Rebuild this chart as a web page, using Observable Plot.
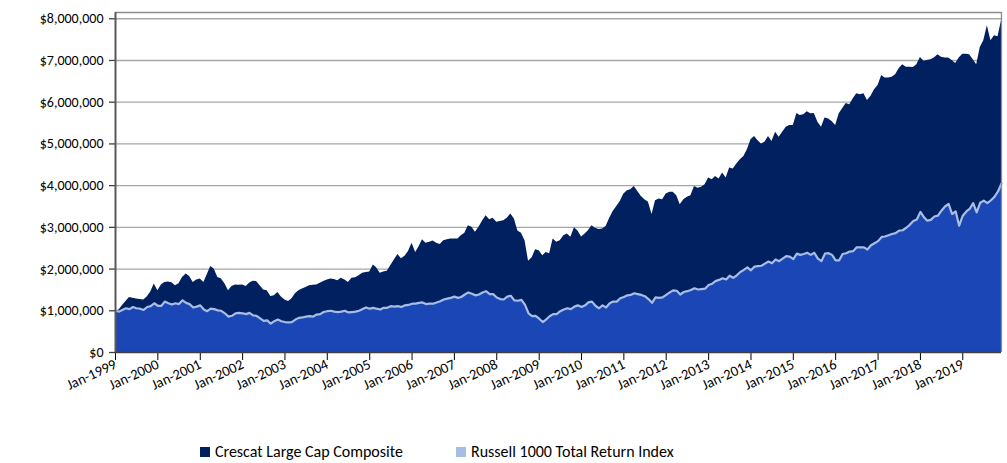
<!DOCTYPE html>
<html>
<head>
<meta charset="utf-8">
<script src="https://cdn.jsdelivr.net/npm/d3@7"></script>
<script src="https://cdn.jsdelivr.net/npm/@observablehq/plot@0.6"></script>
<style>
  body { margin: 0; background: #fff; font-family: Carlito, Lato, "Open Sans", sans-serif; }
  #wrap { position: relative; width: 1007px; height: 463px; }
  #legend { position: absolute; left: 0; top: 439px; width: 1007px; height: 25px; font-size: 16px; color: #000; }
  .item { position: absolute; top: 0; display: flex; align-items: center; height: 25px; }
  .sw { width: 10px; height: 10px; margin-right: 5px; }
</style>
</head>
<body>
<div id="wrap">
  <div id="chart"></div>
  <div id="legend"></div>
</div>
<script>
// Series names
const seriesNames = ["Crescat Large Cap Composite", "Russell 1000 Total Return Index"];
const seriesColors = ["#002060", "#a7bde4"];
const russellFill = "#1a47b5";

// Monthly values, Jan-1999 .. Dec-2019, in millions of dollars (growth of $1,000,000)
const crescat = [
  1.00, 1.02, 1.12, 1.22, 1.32, 1.30, 1.28, 1.27, 1.26, 1.33, 1.45, 1.64,
  1.48, 1.62, 1.68, 1.69, 1.67, 1.60, 1.65, 1.80, 1.88, 1.82, 1.68, 1.74,
  1.76, 1.68, 1.86, 2.06, 2.00, 1.80, 1.77, 1.65, 1.48, 1.58, 1.62, 1.61,
  1.62, 1.58, 1.66, 1.71, 1.70, 1.60, 1.50, 1.48, 1.34, 1.36, 1.44, 1.33,
  1.26, 1.22, 1.28, 1.41, 1.48, 1.52, 1.56, 1.60, 1.61, 1.62, 1.66, 1.70,
  1.74, 1.76, 1.75, 1.72, 1.78, 1.74, 1.68, 1.78, 1.79, 1.84, 1.90, 1.92,
  1.93, 2.10, 2.03, 1.90, 1.93, 1.95, 2.08, 2.22, 2.35, 2.25, 2.31, 2.42,
  2.62, 2.40, 2.53, 2.70, 2.62, 2.64, 2.67, 2.62, 2.59, 2.68, 2.70, 2.72,
  2.72, 2.72, 2.80, 2.86, 3.04, 3.00, 2.88, 3.00, 3.15, 3.28, 3.18, 3.22,
  3.12, 3.14, 3.16, 3.22, 3.32, 3.20, 2.91, 2.86, 2.68, 2.19, 2.27, 2.46,
  2.44, 2.32, 2.40, 2.37, 2.72, 2.64, 2.68, 2.80, 2.84, 2.76, 2.99, 2.91,
  2.77, 2.84, 2.92, 3.04, 2.98, 2.95, 2.96, 3.02, 3.22, 3.38, 3.50, 3.62,
  3.80, 3.88, 3.90, 3.98, 3.86, 3.74, 3.66, 3.60, 3.31, 3.64, 3.68, 3.66,
  3.80, 3.84, 3.84, 3.76, 3.54, 3.66, 3.72, 3.76, 3.98, 3.94, 3.96, 4.02,
  4.18, 4.14, 4.22, 4.16, 4.30, 4.18, 4.42, 4.40, 4.52, 4.62, 4.70, 4.86,
  5.10, 5.18, 5.08, 5.00, 5.04, 5.18, 5.06, 5.28, 5.16, 5.28, 5.40, 5.44,
  5.44, 5.73, 5.68, 5.70, 5.77, 5.72, 5.73, 5.52, 5.40, 5.62, 5.60, 5.54,
  5.44, 5.72, 5.84, 5.97, 5.94, 6.08, 6.20, 6.18, 6.20, 6.04, 6.14, 6.30,
  6.40, 6.64, 6.58, 6.58, 6.60, 6.66, 6.80, 6.90, 6.84, 6.84, 6.83, 6.90,
  7.07, 6.98, 7.00, 7.02, 7.06, 7.14, 7.08, 7.06, 7.06, 7.00, 6.93, 7.06,
  7.15, 7.15, 7.14, 7.02, 6.90, 7.31, 7.47, 7.83, 7.47, 7.59, 7.57, 7.95
];
const russell = [
  1.00, 0.98, 1.02, 1.06, 1.04, 1.09, 1.06, 1.05, 1.02, 1.09, 1.11, 1.18,
  1.12, 1.12, 1.22, 1.18, 1.15, 1.18, 1.16, 1.25, 1.19, 1.16, 1.08, 1.10,
  1.13, 1.03, 0.99, 1.05, 1.04, 1.01, 1.00, 0.94, 0.86, 0.88, 0.94, 0.95,
  0.94, 0.92, 0.95, 0.89, 0.88, 0.82, 0.76, 0.77, 0.69, 0.75, 0.79, 0.75,
  0.73, 0.72, 0.73, 0.79, 0.83, 0.84, 0.86, 0.87, 0.86, 0.91, 0.92, 0.97,
  0.99, 1.00, 0.98, 0.97, 0.98, 1.00, 0.96, 0.97, 0.98, 1.00, 1.04, 1.08,
  1.05, 1.07, 1.05, 1.03, 1.07, 1.07, 1.11, 1.10, 1.11, 1.09, 1.13, 1.14,
  1.17, 1.17, 1.19, 1.20, 1.16, 1.17, 1.17, 1.20, 1.23, 1.27, 1.29, 1.31,
  1.34, 1.31, 1.33, 1.39, 1.44, 1.41, 1.37, 1.39, 1.44, 1.47, 1.40, 1.40,
  1.32, 1.28, 1.27, 1.34, 1.36, 1.25, 1.24, 1.26, 1.14, 0.94, 0.87, 0.88,
  0.81, 0.73, 0.79, 0.87, 0.92, 0.92, 0.99, 1.03, 1.06, 1.04, 1.10, 1.13,
  1.09, 1.13, 1.20, 1.22, 1.12, 1.06, 1.13, 1.08, 1.18, 1.22, 1.22, 1.30,
  1.33, 1.37, 1.38, 1.42, 1.40, 1.38, 1.35, 1.28, 1.19, 1.32, 1.31, 1.32,
  1.38, 1.44, 1.49, 1.48, 1.39, 1.45, 1.47, 1.50, 1.54, 1.51, 1.52, 1.53,
  1.62, 1.65, 1.71, 1.74, 1.78, 1.75, 1.84, 1.79, 1.85, 1.93, 1.98, 2.04,
  1.97, 2.06, 2.07, 2.08, 2.13, 2.18, 2.14, 2.23, 2.19, 2.25, 2.31, 2.30,
  2.24, 2.37, 2.34, 2.36, 2.39, 2.34, 2.39, 2.25, 2.19, 2.37, 2.38, 2.34,
  2.21, 2.21, 2.36, 2.38, 2.42, 2.43, 2.52, 2.52, 2.52, 2.47, 2.57, 2.62,
  2.67, 2.77, 2.78, 2.81, 2.84, 2.86, 2.92, 2.93, 2.99, 3.06, 3.15, 3.19,
  3.37, 3.24, 3.16, 3.18, 3.26, 3.28, 3.40, 3.50, 3.56, 3.32, 3.38, 3.04,
  3.28, 3.38, 3.44, 3.58, 3.36, 3.59, 3.64, 3.58, 3.65, 3.73, 3.86, 4.05
];
// Y tick values
const yTicks = [0, 1e6, 2e6, 3e6, 4e6, 5e6, 6e6, 7e6, 8e6];
const startYear = 1999, startMonth = 0;

const data = crescat.map((v, i) => ({
  date: new Date(Date.UTC(startYear, startMonth + i, 1)),
  crescat: v * 1e6,
  russell: russell[i] * 1e6
}));
const first = data[0].date, last = data[data.length - 1].date;
const yTop = 8.15e6;

const chart = Plot.plot({
  width: 1007,
  height: 430,
  marginLeft: 115,
  marginRight: 6,
  marginTop: 12,
  marginBottom: 78,
  style: { fontFamily: "Carlito, Lato, sans-serif", fontSize: "14px", color: "#000", background: "#fff" },
  x: { type: "utc", domain: [first, last] },
  y: { domain: [0, yTop] },
  marks: [
    Plot.ruleY(yTicks.slice(1), { stroke: "#a6a6a6", strokeWidth: 1.3 }),
    Plot.areaY(data, { x: "date", y: "crescat", fill: seriesColors[0] }),
    Plot.areaY(data, { x: "date", y: "russell", fill: russellFill }),
    Plot.lineY(data, { x: "date", y: "russell", stroke: seriesColors[1], strokeWidth: 2.2 }),
    Plot.ruleY([yTop], { stroke: "#8c8c8c", strokeWidth: 1.3 }),
    Plot.ruleX([last], { stroke: "#8c8c8c", strokeWidth: 1.3 }),
    Plot.axisY({ ticks: yTicks, tickFormat: d3.format("$,.0f"), tickSize: 6, tickPadding: 6, stroke: "#404040", strokeWidth: 1.3, label: null }),
    Plot.axisX({ ticks: d3.utcYear.every(1), tickFormat: d3.utcFormat("%b-%Y"), tickRotate: -25, tickSize: 8, tickPadding: 3, stroke: "#000", fontSize: 14.5, label: null }),
    Plot.ruleX([first], { stroke: "#595959", strokeWidth: 2 }),
    Plot.ruleY([0], { stroke: "#404040", strokeWidth: 1.3 })
  ]
});
document.getElementById("chart").appendChild(chart);

// Legend
const legend = document.getElementById("legend");
const positions = [200, 456];
seriesNames.forEach((name, i) => {
  const it = document.createElement("div");
  it.className = "item";
  it.style.left = positions[i] + "px";
  const sw = document.createElement("div");
  sw.className = "sw";
  sw.style.background = seriesColors[i];
  const tx = document.createElement("span");
  tx.textContent = name;
  it.appendChild(sw);
  it.appendChild(tx);
  legend.appendChild(it);
});
</script>
</body>
</html>
